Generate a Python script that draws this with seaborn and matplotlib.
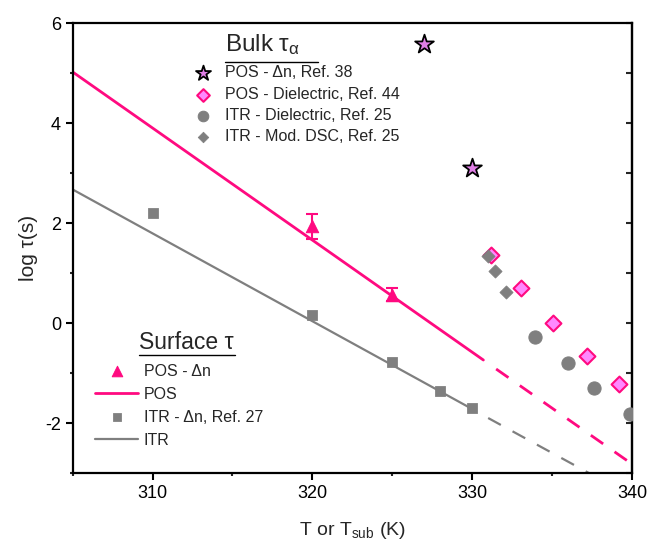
import matplotlib
matplotlib.use("Agg")
import matplotlib.pyplot as plt
import seaborn as sns
from matplotlib.ticker import MultipleLocator

# Bulk tau_alpha
pos_dn_T = [327.0, 330.0]
pos_dn_logtau = [5.58, 3.10]
pos_diel_T = [331.2, 333.05, 335.05, 337.2, 339.2]
pos_diel_logtau = [1.37, 0.70, 0.01, -0.66, -1.21]
itr_diel_T = [333.95, 336.0, 337.6, 339.85]
itr_diel_logtau = [-0.28, -0.80, -1.29, -1.82]
itr_dsc_T = [331.0, 331.4, 332.1]
itr_dsc_logtau = [1.35, 1.04, 0.63]

# Surface tau
pos_surf_T = [320.0, 325.0]
pos_surf_logtau = [1.94, 0.57]
pos_surf_err = [0.25, 0.13]
itr_surf_T = [310.0, 320.0, 325.0, 328.0, 330.0]
itr_surf_logtau = [2.21, 0.17, -0.77, -1.35, -1.70]

# fit lines: solid over measured range, dashed extrapolation
pos_fit_T = [305.0, 330.7]
pos_fit_logtau = [5.02, -0.74]
pos_ext_T = [331.5, 340.0]
pos_ext_logtau = [-0.92, -2.82]
itr_fit_T = [305.0, 330.0]
itr_fit_logtau = [2.67, -1.72]
itr_ext_T = [331.0, 337.3]
itr_ext_logtau = [-1.90, -3.0]

PINK = "#FF0A80"
GRAY = "#7F7F7F"

sns.set_style("ticks")
plt.rcParams["font.family"] = ["Liberation Sans", "DejaVu Sans"]
plt.rcParams["mathtext.fontset"] = "custom"
plt.rcParams["mathtext.rm"] = "Liberation Sans"
plt.rcParams["mathtext.it"] = "Liberation Sans:italic"
plt.rcParams["axes.unicode_minus"] = False

fig = plt.figure(figsize=(6.52, 5.49), dpi=100)
ax = fig.add_axes([0.1115, 0.1384, 0.8578, 0.8197])

# lines
sns.lineplot(x=pos_fit_T, y=pos_fit_logtau, color=PINK, lw=2, label="POS", ax=ax)
sns.lineplot(x=pos_ext_T, y=pos_ext_logtau, color=PINK, lw=2,
             linestyle=(0, (5.4, 5)), ax=ax)
sns.lineplot(x=itr_fit_T, y=itr_fit_logtau, color=GRAY, lw=1.6, label="ITR", ax=ax)
sns.lineplot(x=itr_ext_T, y=itr_ext_logtau, color=GRAY, lw=1.6,
             linestyle=(0, (6.5, 6)), ax=ax)

# surface points
ax.errorbar(pos_surf_T, pos_surf_logtau, yerr=pos_surf_err, fmt="none",
            ecolor=PINK, elinewidth=1.5, capsize=4, capthick=1.5)
sns.scatterplot(x=pos_surf_T, y=pos_surf_logtau, marker="^", s=80, color=PINK,
                edgecolor=PINK, label="POS - Δn", ax=ax, zorder=4)
sns.scatterplot(x=itr_surf_T, y=itr_surf_logtau, marker="s", s=50, color=GRAY,
                edgecolor=GRAY, label="ITR - Δn, Ref. 27", ax=ax, zorder=4)

# bulk points
sns.scatterplot(x=itr_diel_T, y=itr_diel_logtau, marker="o", s=90, color=GRAY,
                edgecolor=GRAY, label="ITR - Dielectric, Ref. 25", ax=ax, zorder=4)
sns.scatterplot(x=pos_diel_T, y=pos_diel_logtau, marker="D", s=65, color="#FF88FF",
                edgecolor=PINK, linewidth=1.5, label="POS - Dielectric, Ref. 44",
                ax=ax, zorder=5)
sns.scatterplot(x=itr_dsc_T, y=itr_dsc_logtau, marker="D", s=45, color=GRAY,
                edgecolor=GRAY, label="ITR - Mod. DSC, Ref. 25", ax=ax, zorder=6)
sns.scatterplot(x=pos_dn_T, y=pos_dn_logtau, marker="*", s=200, color="#E07FE6",
                edgecolor="black", linewidth=1.3, label="POS - Δn, Ref. 38",
                ax=ax, zorder=6)

ax.set_xlim(305, 340)
ax.set_ylim(-3, 6)
ax.xaxis.set_major_locator(MultipleLocator(10))
ax.xaxis.set_minor_locator(MultipleLocator(5))
ax.yaxis.set_major_locator(MultipleLocator(2))
ax.yaxis.set_minor_locator(MultipleLocator(1))
ax.tick_params(which="major", direction="out", length=5, width=1.5, labelsize=13,
               colors="black", top=False, right=False)
ax.tick_params(which="minor", direction="out", length=2.5, width=1.5,
               top=False, right=False)
for sp in ax.spines.values():
    sp.set_linewidth(1.6)
    sp.set_color("black")

sec = ax.secondary_yaxis("right")
sec.yaxis.set_major_locator(MultipleLocator(1))
sec.tick_params(direction="in", length=4, width=1.5, labelright=False)
sec.spines["right"].set_linewidth(1.6)

ax.set_xlabel("T or T$_{\\mathrm{sub}}$ (K)", fontsize=14, labelpad=13)
ax.set_ylabel("log τ(s)", fontsize=15, labelpad=5)

# legends
handles, labels = ax.get_legend_handles_labels()
hmap = dict(zip(labels, handles))
bulk_labels = ["POS - Δn, Ref. 38", "POS - Dielectric, Ref. 44",
               "ITR - Dielectric, Ref. 25", "ITR - Mod. DSC, Ref. 25"]
surf_labels = ["POS - Δn", "POS", "ITR - Δn, Ref. 27", "ITR"]

leg1 = ax.legend([hmap[l] for l in bulk_labels], bulk_labels, loc="upper left",
                 bbox_to_anchor=(0.219, 0.906), frameon=False, fontsize=11.5,
                 handlelength=1.0, handletextpad=0.85, labelspacing=0.4,
                 borderpad=0, borderaxespad=0, scatterpoints=1, markerscale=0.8)
ax.add_artist(leg1)
ax.legend([hmap[l] for l in surf_labels], surf_labels, loc="upper left",
          bbox_to_anchor=(0.040, 0.243), frameon=False, fontsize=11.5,
          handlelength=2.7, handletextpad=0.35, labelspacing=0.5,
          borderpad=0, borderaxespad=0, scatterpoints=1, markerscale=0.85)

ax.text(0.272, 0.938, "Bulk τ$_{\\mathrm{α}}$", transform=ax.transAxes,
        fontsize=17.5, va="baseline", ha="left")
ax.plot([0.272, 0.4386], [0.913, 0.913], transform=ax.transAxes, color="black",
        lw=1, clip_on=False)
ax.text(0.1185, 0.275, "Surface τ", transform=ax.transAxes,
        fontsize=16.5, va="baseline", ha="left")
ax.plot([0.1185, 0.2902], [0.262, 0.262], transform=ax.transAxes, color="black",
        lw=1, clip_on=False)

fig.savefig("out.png", dpi=100)
